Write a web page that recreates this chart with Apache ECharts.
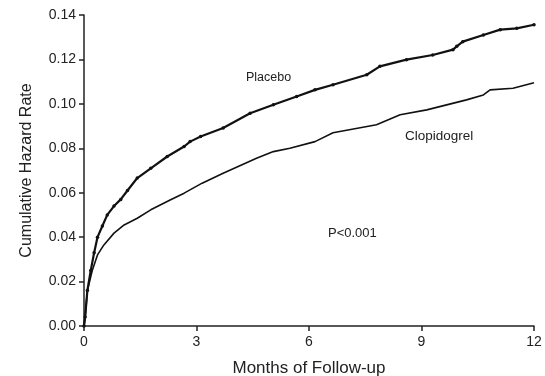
<!DOCTYPE html>
<html>
<head>
<meta charset="utf-8">
<script src="https://cdn.jsdelivr.net/npm/echarts@6/dist/echarts.min.js"></script>
<style>html,body{margin:0;padding:0;background:#fff;}#c{width:545px;height:376px;}</style>
</head>
<body>
<div id="c"></div>
<script>
var xTicks = [0, 3, 6, 9, 12];
var yTicks = [0, 0.02, 0.04, 0.06, 0.08, 0.10, 0.12, 0.14];
var placeboMonths = [0, 0.03, 0.09, 0.18, 0.27, 0.36, 0.49, 0.62, 0.80, 0.98, 1.16, 1.42, 1.78, 2.22, 2.67, 2.83, 3.11, 3.71, 4.43, 5.05, 5.67, 6.16, 6.64, 7.54, 7.89, 8.6, 9.3, 9.84, 9.94, 10.1, 10.65, 11.1, 11.54, 12];
var placeboRate = [0, 0.004, 0.016, 0.025, 0.033, 0.040, 0.045, 0.050, 0.054, 0.057, 0.061, 0.0666, 0.071, 0.0763, 0.0808, 0.083, 0.0853, 0.0891, 0.0958, 0.0996, 0.1033, 0.1063, 0.1086, 0.1131, 0.1169, 0.1199, 0.122, 0.1244, 0.1259, 0.128, 0.131, 0.1334, 0.134, 0.1356];
var clopMonths = [0, 0.03, 0.09, 0.22, 0.36, 0.53, 0.8, 1.07, 1.42, 1.78, 2.31, 2.67, 3.15, 3.71, 4.6, 5.05, 5.49, 6.16, 6.64, 7.8, 8.43, 9.14, 10.2, 10.65, 10.83, 11.44, 12];
var clopRate = [0, 0.004, 0.016, 0.025, 0.032, 0.0365, 0.0418, 0.0455, 0.0485, 0.0523, 0.0568, 0.0598, 0.0643, 0.0688, 0.0755, 0.0785, 0.080, 0.083, 0.087, 0.0906, 0.0951, 0.0973, 0.1018, 0.104, 0.1063, 0.107, 0.1095];

function pairs(xs, ys) { return xs.map(function (x, i) { return [x, ys[i]]; }); }

var chart = echarts.init(document.getElementById('c'));
var font = 'Liberation Sans, Arial, sans-serif';
chart.setOption({
  animation: false,
  grid: { left: 84, right: 11, top: 15, bottom: 50, containLabel: false, outerBoundsMode: 'none' },
  xAxis: {
    type: 'value', min: 0, max: 12, interval: 3,
    name: 'Months of Follow-up', nameLocation: 'middle', nameGap: 34,
    nameTextStyle: { fontFamily: font, fontSize: 17, color: '#222' },
    axisLine: { lineStyle: { color: '#222', width: 1.5 } },
    axisTick: { show: true, length: 5, lineStyle: { color: '#222', width: 1.5 } },
    axisLabel: { fontFamily: font, fontSize: 14, color: '#222', margin: 9, formatter: function (v) { return xTicks.indexOf(v) >= 0 ? String(v) : ''; } },
    splitLine: { show: false }
  },
  yAxis: {
    type: 'value', min: 0, max: 0.14, interval: 0.02,
    name: 'Cumulative Hazard Rate', nameLocation: 'middle', nameGap: 49, nameRotate: 90,
    nameTextStyle: { fontFamily: font, fontSize: 16, color: '#222' },
    axisLine: { show: true, lineStyle: { color: '#222', width: 1.5 } },
    axisTick: { show: true, length: 5, lineStyle: { color: '#222', width: 1.5 } },
    axisLabel: { fontFamily: font, fontSize: 14, color: '#222', margin: 8, formatter: function (v) { return v.toFixed(2); } },
    splitLine: { show: false }
  },
  series: [
    {
      name: 'Placebo', type: 'line', data: pairs(placeboMonths, placeboRate),
      showSymbol: true, symbol: 'circle', symbolSize: 3.5,
      itemStyle: { color: '#111' }, lineStyle: { color: '#111', width: 2.2 }, z: 3
    },
    {
      name: 'Clopidogrel', type: 'line', data: pairs(clopMonths, clopRate),
      showSymbol: false, lineStyle: { color: '#111', width: 1.6 }, z: 2
    }
  ],
  graphic: [
    { type: 'text', left: 246, top: 71, style: { text: 'Placebo', font: '12.5px ' + font, fill: '#222' } },
    { type: 'text', left: 405, top: 129, style: { text: 'Clopidogrel', font: '13.5px ' + font, fill: '#222' } },
    { type: 'text', left: 328, top: 227, style: { text: 'P<0.001', font: '13px ' + font, fill: '#222' } }
  ]
});
</script>
</body>
</html>
